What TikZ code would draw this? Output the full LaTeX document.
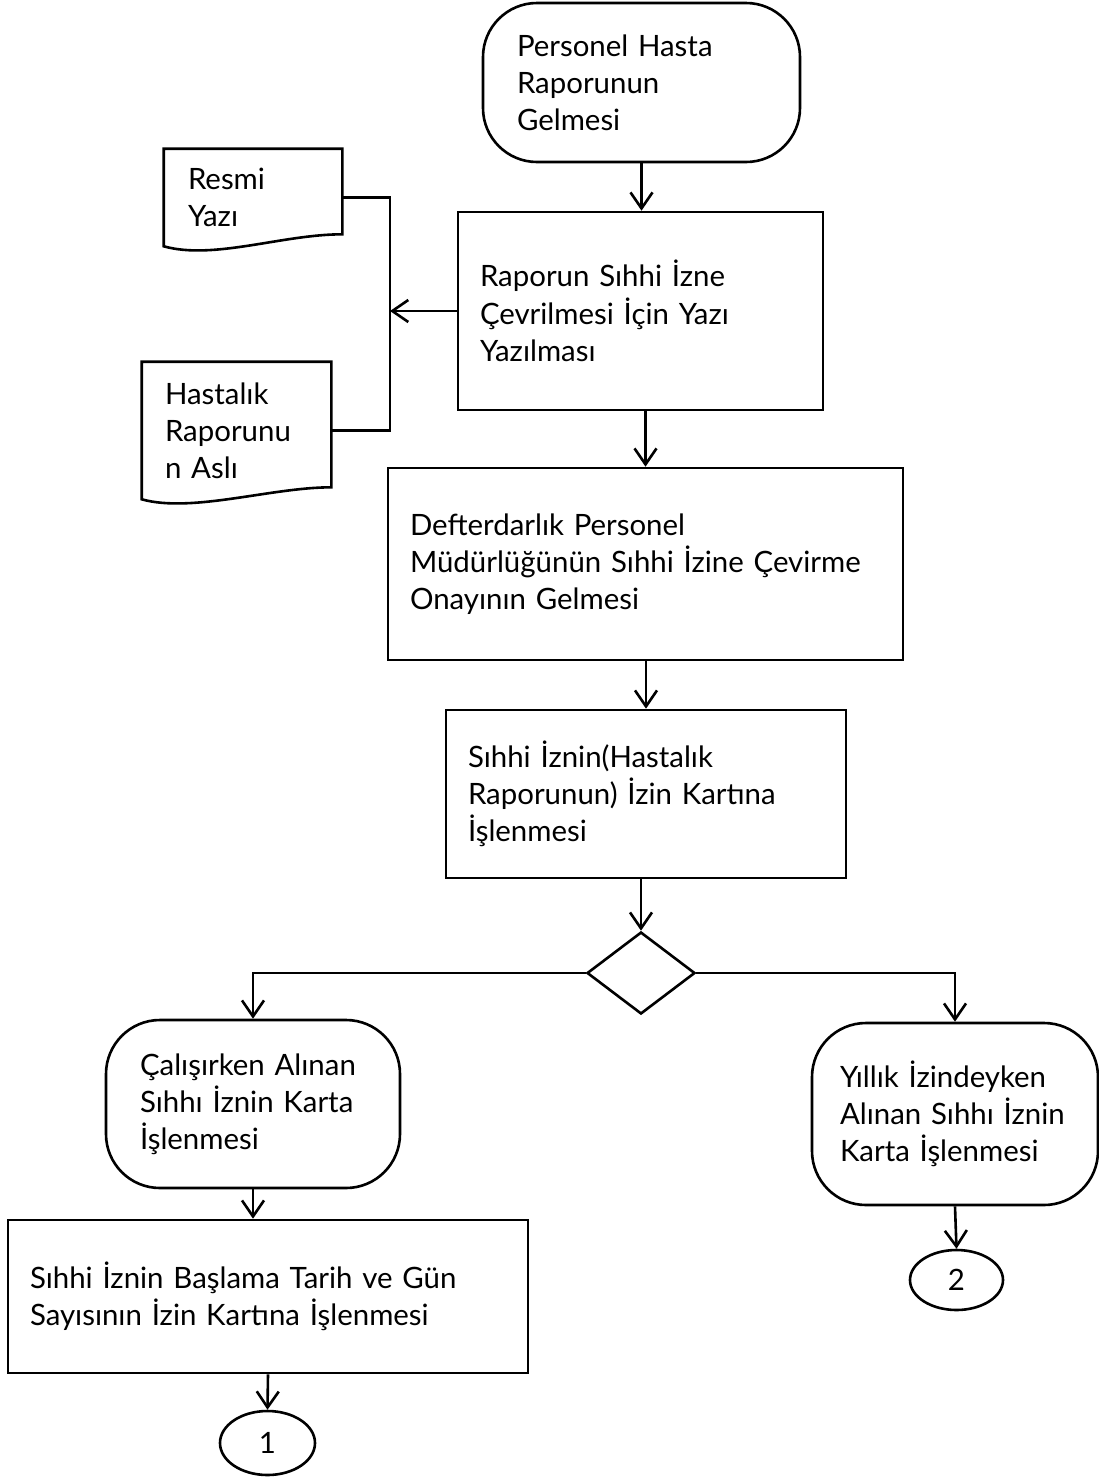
\documentclass[tikz,border=0pt]{standalone}
\usepackage{fontspec}
\setmainfont{Lato}
\usetikzlibrary{shapes.geometric}
\usetikzlibrary{arrows.meta}
\tikzset{every node/.style={font=\fontsize{14.7}{18.6}\selectfont},
 kutu/.style={draw, rectangle, align=left, inner xsep=11pt, inner ysep=0pt},
 uc/.style={kutu, rounded corners=27pt, inner xsep=17pt},
 belge/.style={rectangle, align=left, inner xsep=11pt, inner ysep=0pt},
 baglac/.style={draw, ellipse, inner sep=0pt},
 karar/.style={draw, diamond, inner sep=0pt},
 ok/.style={-{Straight Barb[length=8pt,width=11pt]}},
 }

\begin{document}
\begin{tikzpicture}[x=0.5pt, y=-0.5pt, line width=1.3pt]
        \useasboundingbox (0,0) rectangle (1098,1478);
        \node[uc, minimum width=158.5pt, minimum height=79.5pt, text width=124.5pt] (bas) at (641.5,82.5) {Personel Hasta\\Raporunun\\Gelmesi};
        \node[kutu, minimum width=182.5pt, minimum height=99pt, text width=160.5pt] (kutu1) at (640.5,311) {Raporun Sıhhi İzne\\Çevrilmesi İçin Yazı\\Yazılması};
        \node[kutu, minimum width=257.5pt, minimum height=96pt, text width=235.5pt] (kutu2) at (645.5,564) {Defterdarlık Personel\\Müdürlüğünün Sıhhi İzine Çevirme\\Onayının Gelmesi};
        \node[kutu, minimum width=200pt, minimum height=84pt, text width=178pt] (kutu3) at (646,794) {Sıhhi İznin(Hastalık\\Raporunun) İzin Kartına\\İşlenmesi};
        \node[karar, minimum width=54pt, minimum height=41pt] (karar) at (641,973) {};
        \node[uc, minimum width=147pt, minimum height=84pt, text width=113pt] (calis) at (253,1104) {Çalışırken Alınan\\Sıhhı İznin Karta\\İşlenmesi};
        \node[uc, minimum width=143pt, minimum height=91pt, text width=115pt, inner xsep=14pt] (yillik) at (955,1114) {Yıllık İzindeyken\\Alınan Sıhhı İznin\\Karta İşlenmesi};
        \node[kutu, minimum width=260pt, minimum height=76.5pt, text width=238pt] (kutu4) at (268,1296.5) {Sıhhi İznin Başlama Tarih ve Gün\\Sayısının İzin Kartına İşlenmesi};
        \node[baglac, minimum width=47.5pt, minimum height=32pt] (bir) at (267.5,1443) {1};
        \node[baglac, minimum width=46.5pt, minimum height=30pt] (iki) at (956.5,1280) {2};
        % belgeler
        \node[belge, minimum width=88pt, minimum height=47.5pt, text width=65pt] (resmi) at (253,197.5) {Resmi\\Yazı};
        \node[belge, minimum width=93.5pt, minimum height=67.5pt, text width=71.5pt] (hasta) at (236.5,430.5) {Hastalık\\Raporunu\\n Aslı};
        \foreach \b in {resmi, hasta} {
            \draw (\b.north west) -- (\b.north east) -- ([yshift=6pt]\b.south east)
                .. controls +(-60,0) and +(50,14) .. (\b.south west) -- cycle;
        }
        \coordinate (kavsak) at (390,311);
        \draw[ok] (kutu1.west) -- (kavsak);
        \draw (resmi.east) -| (kavsak) |- (hasta.east);
        % akis
        \draw[ok] (bas.south) -- (bas.south |- kutu1.north);
        \draw[ok] (kutu2.north |- kutu1.south) -- (kutu2.north);
        \draw[ok] (kutu3.north |- kutu2.south) -- (kutu3.north);
        \draw[ok] (karar.north |- kutu3.south) -- (karar.north);
        \draw[ok] (karar.west) -| (calis.north);
        \draw[ok] (karar.east) -| (yillik.north);
        \draw[ok] (calis.south) -- (calis.south |- kutu4.north);
        \draw[ok] (kutu4.south) -- (bir.north);
        \draw[ok] (yillik.south) -- (iki.north);
    \end{tikzpicture}
\end{document}
